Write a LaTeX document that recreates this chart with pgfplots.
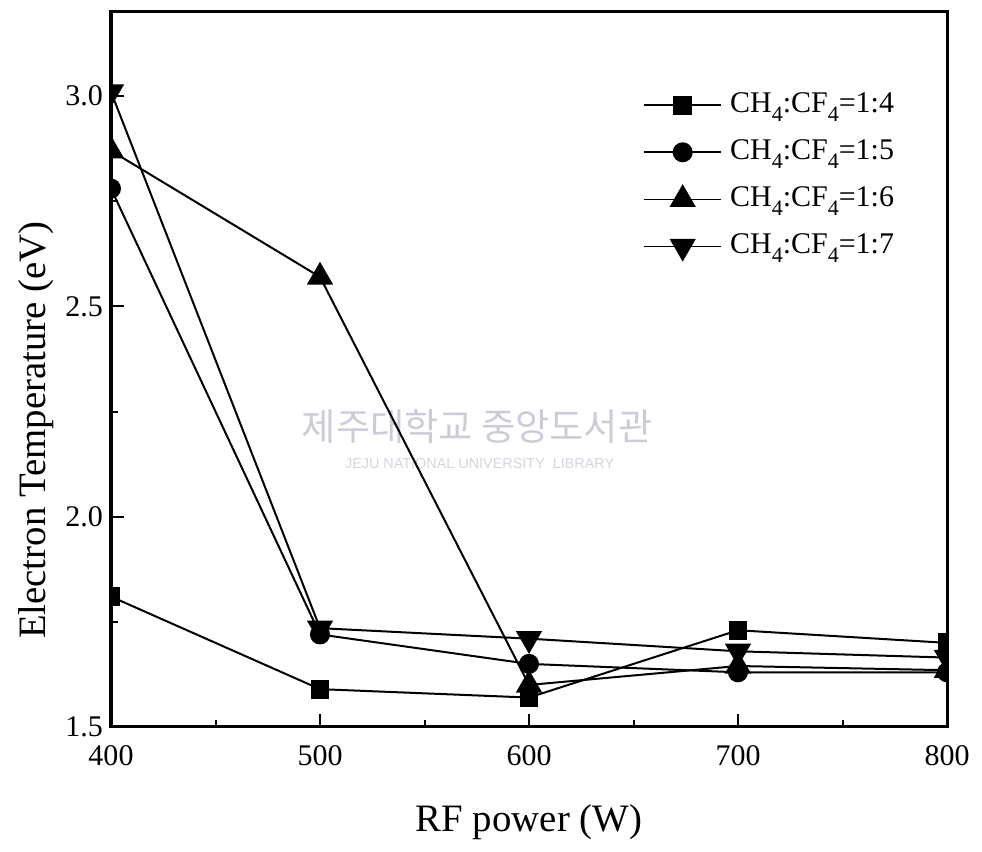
\documentclass[border=0pt]{standalone}
\usepackage{fontspec}
\setmainfont{Liberation Serif}
\newfontfamily\krfont{Noto Sans CJK KR}
\newfontfamily\wmfont{Liberation Sans}
\usepackage{pgfplots}
\pgfplotsset{compat=1.18}
\newcommand\sub[1]{\raisebox{-2.4pt}{\fontsize{5.5pt}{6pt}\selectfont #1}}
\begin{document}
\begin{tikzpicture}
\begin{axis}[
  scale only axis,
  width=209pt, height=178.75pt,
  xmin=400, xmax=800, ymin=1.5, ymax=3.2,
  xtick={400,500,600,700,800},
  minor x tick num=1,
  ytick={1.5,2.0,2.5,3.0},
  minor y tick num=1,
  yticklabel style={/pgf/number format/fixed,/pgf/number format/fixed zerofill,/pgf/number format/precision=1},
  /pgf/number format/assume math mode=true,
  tick align=inside,
  xtick pos=bottom, ytick pos=left,
  major tick length=3.25pt, minor tick length=1.75pt,
  every tick/.style={line width=0.5pt, black},
  axis line style={line width=0.75pt},
  tick label style={font=\fontsize{7.5pt}{9pt}\selectfont},
  xticklabel style={yshift=-1pt},
  yticklabel style={xshift=1.5pt},
  label style={font=\fontsize{9.7pt}{11pt}\selectfont},
  xlabel={RF power (W)},
  ylabel={Electron Temperature (eV)},
  xlabel style={at={(axis description cs:0.5,-0.133)}, anchor=center},
  ylabel style={at={(axis description cs:-0.09,0.415)}, anchor=center, rotate=0},
  clip marker paths=true,
  legend style={draw=none, fill=none, at={(axis description cs:0.636,0.9)}, anchor=north west,
    font=\fontsize{7.5pt}{9pt}\selectfont, row sep=1.3pt, inner sep=0pt,
    /tikz/every even column/.append style={column sep=2pt}},
  legend cell align=left,
  legend image code/.code={
    \draw[line width=0.4pt] (0pt,0pt) -- (19.25pt,0pt);
    \draw[#1, line width=0.5pt] plot coordinates {(9.6pt,0pt)};
  },
  every axis plot/.append style={black, line width=0.5pt, mark options={solid, fill=black}},
]
\node[text=blue!15!gray!35, font=\krfont\fontsize{9.3pt}{10pt}\selectfont] at (axis description cs:0.438,0.42) {제주대학교 중앙도서관};
\node[text=blue!10!gray!30, font=\wmfont\fontsize{3.6pt}{4pt}\selectfont] at (axis description cs:0.441,0.369) {JEJU NATIONAL UNIVERSITY\ \ LIBRARY};
\addplot[mark=square*, mark size=2.1pt] coordinates {(400,1.81) (500,1.59) (600,1.57) (700,1.73) (800,1.70)};
\addlegendentry{CH\sub{4}:CF\sub{4}=1:4}
\addplot[mark=*, mark size=2.25pt] coordinates {(400,2.78) (500,1.72) (600,1.65) (700,1.63) (800,1.63)};
\addlegendentry{CH\sub{4}:CF\sub{4}=1:5}
\addplot[mark=triangle*, mark size=3.3pt] coordinates {(400,2.87) (500,2.57) (600,1.60) (700,1.645) (800,1.635)};
\addlegendentry{CH\sub{4}:CF\sub{4}=1:6}
\addplot[mark=triangle*, mark size=3.3pt, mark options={rotate=180}] coordinates {(400,3.01) (500,1.735) (600,1.71) (700,1.68) (800,1.665)};
\addlegendentry{CH\sub{4}:CF\sub{4}=1:7}
\end{axis}
\pgfresetboundingbox
\path ([shift={(-27.75pt,-31.25pt)}]current axis.south west) rectangle ([shift={(8.75pt,3pt)}]current axis.north east);
\end{tikzpicture}
\end{document}
